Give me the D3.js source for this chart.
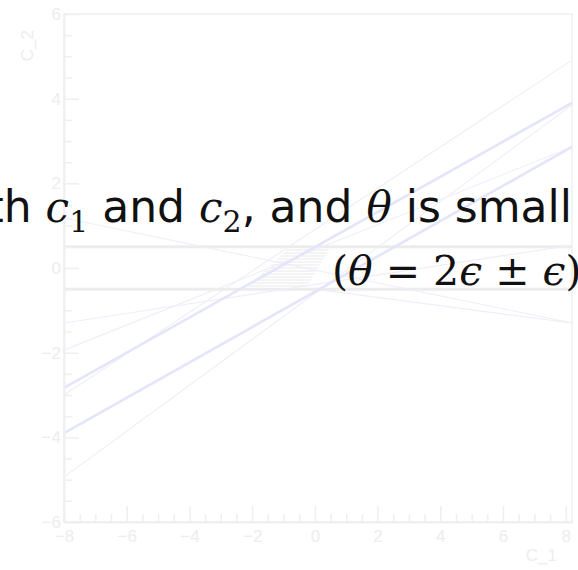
<!DOCTYPE html>
<html>
<head>
<meta charset="utf-8">
<script src="https://cdn.jsdelivr.net/npm/d3@7"></script>
<style>
  html, body { margin: 0; padding: 0; background: #ffffff; }
  svg { display: block; }
</style>
</head>
<body>
<svg id="chart" width="578" height="570"></svg>
<script>
// ---- data ---------------------------------------------------------------
const xDomain = [-8, 8.2];
const yDomain = [-6, 6];
const xTickValues = [-8, -6, -4, -2, 0, 2, 4, 6, 8];
const yTickValues = [-6, -4, -2, 0, 2, 4, 6];
const minorStep = 0.5;
const xTitle = "C_1";
const yTitle = "C_2";

// horizontal band |c_2| < 0.5
const bandEdges = [-0.5, 0.5];

// straight lines, given as [c1 start, c2 start, c1 end, c2 end]
const boldLines = [
  [-8, -2.83, 8.2, 3.90],
  [-8, -3.90, 8.2, 2.86]
];
const thinLines = [
  [-8, -3.00, 8.2, 4.91],
  [-8, -4.94, 8.2, 3.85],
  [-8, -1.30, 8.2, 0.54],
  [-8, -1.94, 8.2, 2.86],
  [-8, 1.18, 8.2, -1.30],
  [0, -0.5, 8.2, -1.30]
];

// hatched patch inside the band
const hatchCorners = [[-2.2, -0.5], [-0.8, 0.5], [0.5, 0.5], [-0.3, -0.5]];

// ---- layout -------------------------------------------------------------
const frame = { left: 64, right: 572, top: 14, bottom: 522 };
const axisColor = "#efefef";
const labelColor = "#ededed";

const svg = d3.select("#chart");

const x = d3.scaleLinear().domain(xDomain).range([frame.left, frame.right]);
const y = d3.scaleLinear().domain(yDomain).range([frame.bottom, frame.top]);

const minorX = d3.range(xDomain[0], xDomain[1] + 1e-9, minorStep).filter(v => v % 2 !== 0);
const minorY = d3.range(yDomain[0], yDomain[1] + 1e-9, minorStep).filter(v => v % 2 !== 0);

// hatch pattern
const defs = svg.append("defs");
const pat = defs.append("pattern")
  .attr("id", "hhatch")
  .attr("patternUnits", "userSpaceOnUse")
  .attr("width", 8).attr("height", 3);
pat.append("line")
  .attr("x1", 0).attr("x2", 8).attr("y1", 1).attr("y2", 1)
  .attr("stroke", "#e9e9e9").attr("stroke-width", 1);

// frame box
svg.append("rect")
  .attr("x", frame.left).attr("y", frame.top)
  .attr("width", frame.right - frame.left)
  .attr("height", frame.bottom - frame.top)
  .attr("fill", "none")
  .attr("stroke", axisColor)
  .attr("stroke-width", 1.5);

// hatched patch
svg.append("path")
  .datum(hatchCorners)
  .attr("d", d3.line().x(d => x(d[0])).y(d => y(d[1])).curve(d3.curveLinearClosed))
  .attr("fill", "url(#hhatch)")
  .attr("stroke", "none");

// band edges
svg.selectAll("line.band")
  .data(bandEdges)
  .join("line")
  .attr("class", "band")
  .attr("x1", x(xDomain[0])).attr("x2", x(xDomain[1]))
  .attr("y1", d => y(d)).attr("y2", d => y(d))
  .attr("stroke", "#ececec")
  .attr("stroke-width", 3);

// lines
const seg = d3.line().x(d => x(d[0])).y(d => y(d[1]));
const toPts = d => [[d[0], d[1]], [d[2], d[3]]];

svg.append("g")
  .selectAll("path")
  .data(thinLines)
  .join("path")
  .attr("d", d => seg(toPts(d)))
  .attr("fill", "none")
  .attr("stroke", "#eeeef9")
  .attr("stroke-width", 1.1);

svg.append("g")
  .selectAll("path")
  .data(boldLines)
  .join("path")
  .attr("d", d => seg(toPts(d)))
  .attr("fill", "none")
  .attr("stroke", "#e4e4fa")
  .attr("stroke-width", 2.6);

// axes
const axisFont = "'Liberation Sans', Arial, sans-serif";

const gx = svg.append("g").attr("transform", `translate(0,${frame.bottom})`);
gx.call(d3.axisBottom(x).tickValues(xTickValues).tickSizeInner(-16).tickSizeOuter(0).tickPadding(8).tickFormat(d3.format("d")));
const gxm = svg.append("g").attr("transform", `translate(0,${frame.bottom})`);
gxm.call(d3.axisBottom(x).tickValues(minorX).tickSizeInner(-8).tickSizeOuter(0).tickFormat(""));

const gy = svg.append("g").attr("transform", `translate(${frame.left},0)`);
gy.call(d3.axisLeft(y).tickValues(yTickValues).tickSizeInner(-15).tickSizeOuter(0).tickPadding(3).tickFormat(d3.format("d")));
const gym = svg.append("g").attr("transform", `translate(${frame.left},0)`);
gym.call(d3.axisLeft(y).tickValues(minorY).tickSizeInner(-8).tickSizeOuter(0).tickFormat(""));

[gx, gxm, gy, gym].forEach(g => {
  g.select(".domain").attr("stroke", axisColor).attr("stroke-width", 1.5);
  g.selectAll(".tick line").attr("stroke", axisColor).attr("stroke-width", 1.5);
  g.selectAll(".tick text")
    .attr("fill", labelColor)
    .style("font-family", axisFont)
    .style("font-size", "17px");
});

// axis titles
svg.append("text")
  .attr("x", 557).attr("y", 561)
  .attr("text-anchor", "end")
  .attr("fill", labelColor)
  .style("font-family", axisFont)
  .style("font-size", "17px")
  .text(xTitle);

svg.append("text")
  .attr("transform", "translate(33,30) rotate(-90)")
  .attr("text-anchor", "end")
  .attr("fill", labelColor)
  .style("font-family", axisFont)
  .style("font-size", "17px")
  .text(yTitle);

// caption text over the plot
const sans = "'DejaVu Sans', Verdana, sans-serif";
const mathFont = "'DejaVu Serif', 'Liberation Serif', serif";

const cap1 = svg.append("text")
  .attr("x", 572).attr("y", 222)
  .attr("text-anchor", "end")
  .attr("fill", "#111")
  .style("font-family", sans)
  .style("font-size", "44px");

const parts1 = [
  { t: "th ", f: sans },
  { t: "c", f: mathFont, it: true },
  { t: "1", f: mathFont, sub: true },
  { t: " and ", f: sans, up: true },
  { t: "c", f: mathFont, it: true },
  { t: "2", f: mathFont, sub: true },
  { t: ", and ", f: sans, up: true },
  { t: "θ", f: mathFont, it: true },
  { t: " is small", f: sans }
];
parts1.forEach(p => {
  const ts = cap1.append("tspan").text(p.t).style("font-family", p.f);
  if (p.it) ts.style("font-style", "italic").style("font-size", "42px");
  if (p.sub) ts.attr("dy", 10).style("font-size", "30px");
  if (p.up) ts.attr("dy", -10);
});

const cap2 = svg.append("text")
  .attr("x", 332).attr("y", 285)
  .attr("fill", "#111")
  .style("font-family", mathFont)
  .style("font-size", "41px");

[
  { t: "(" },
  { t: "θ", it: true },
  { t: " = 2" },
  { t: "ϵ", it: true },
  { t: " ± " },
  { t: "ϵ", it: true },
  { t: ")" }
].forEach(p => {
  const ts = cap2.append("tspan").text(p.t);
  if (p.it) ts.style("font-style", "italic");
});
</script>
</body>
</html>
